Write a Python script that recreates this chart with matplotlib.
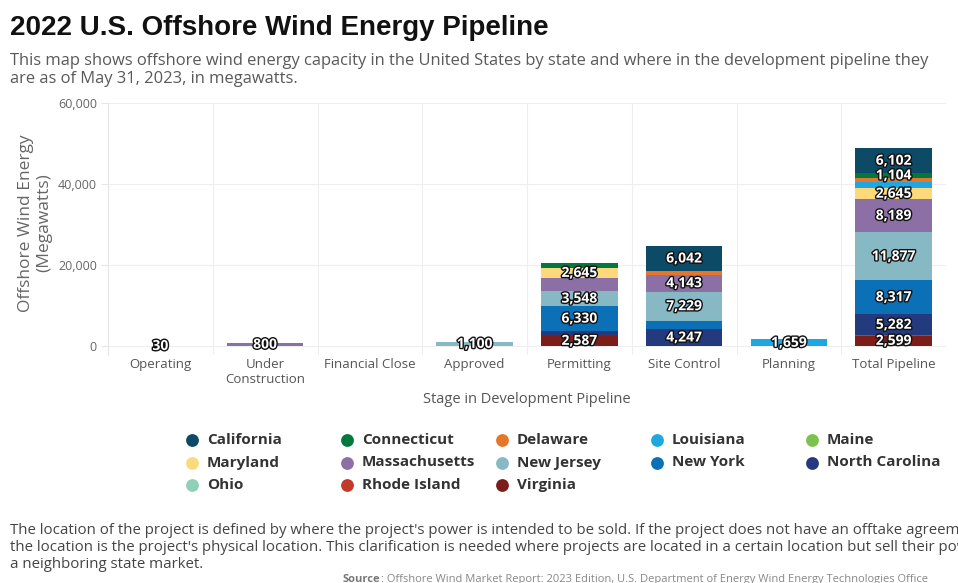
import numpy as np
import matplotlib
matplotlib.use('Agg')
import matplotlib.pyplot as plt
import matplotlib.patheffects as pe

# pipeline stages (x axis)
stages = ['Operating', 'Under\nConstruction', 'Financial Close', 'Approved',
          'Permitting', 'Site Control', 'Planning', 'Total Pipeline']

# capacity by state for each stage, MW
california     = [0, 0, 0, 0, 0, 6042, 0, 6102]
connecticut    = [0, 0, 0, 0, 1104, 0, 0, 1104]
delaware       = [0, 0, 0, 0, 0, 1000, 0, 1000]
louisiana      = [0, 0, 0, 0, 0, 0, 1659, 1659]
maine          = [0, 0, 0, 0, 0, 0, 0, 0]
maryland       = [0, 0, 0, 0, 2645, 0, 0, 2645]
massachusetts  = [0, 800, 0, 0, 3246, 4143, 0, 8189]
new_jersey     = [0, 0, 0, 1100, 3548, 7229, 0, 11877]
new_york       = [0, 0, 0, 0, 6330, 1987, 0, 8317]
north_carolina = [0, 0, 0, 0, 1035, 4247, 0, 5282]
ohio           = [0, 0, 0, 0, 0, 0, 0, 0]
rhode_island   = [30, 0, 0, 0, 0, 0, 0, 30]
virginia       = [12, 0, 0, 0, 2587, 0, 0, 2599]

state_names = ['California', 'Connecticut', 'Delaware', 'Louisiana', 'Maine',
               'Maryland', 'Massachusetts', 'New Jersey', 'New York', 'North Carolina',
               'Ohio', 'Rhode Island', 'Virginia']
state_values = [california, connecticut, delaware, louisiana, maine,
                maryland, massachusetts, new_jersey, new_york, north_carolina,
                ohio, rhode_island, virginia]
state_colors = ['#0c4a66', '#00783e', '#e5762a', '#1ea7e0', '#7cc24e',
                '#fdd97c', '#8c6fa5', '#86b9c4', '#0b70b5', '#243a7e',
                '#8ed1b7', '#c23a2a', '#7b1e1a']

W, H = 958, 583
fig = plt.figure(figsize=(W / 100, H / 100), dpi=100)
fig.patch.set_facecolor('white')

body_font = ['Open Sans', 'DejaVu Sans']
grey = '#666666'

ax = fig.add_axes([108 / W, 1 - 355 / H, (946 - 108) / W, (355 - 103) / H])
x = np.arange(len(stages))

# stack from the bottom in reverse alphabetical order
bottom = np.zeros(len(stages))
segments = [[] for _ in stages]
for name, vals, color in reversed(list(zip(state_names, state_values, state_colors))):
    vals = np.array(vals, dtype=float)
    ax.bar(x, vals, bottom=bottom, width=0.73, color=color, linewidth=0, zorder=2)
    for i, v in enumerate(vals):
        if v > 0:
            segments[i].append((v, bottom[i] + v / 2))
    bottom += vals

# value labels, biggest first, skipping those that would collide
min_gap = 3500
for i, segs in enumerate(segments):
    placed = []
    for v, c in sorted(segs, key=lambda s: -s[0]):
        if all(abs(c - p) >= min_gap for p in placed):
            placed.append(c)
            ax.text(x[i], c, f'{int(v):,}', ha='center', va='center',
                    fontsize=10, fontweight='bold', color='white', family=body_font,
                    zorder=5,
                    path_effects=[pe.withStroke(linewidth=2, foreground='#111111')])

ax.set_xlim(-0.5, len(stages) - 0.5)
ax.set_ylim(-2200, 60000)
ax.set_yticks([0, 20000, 40000, 60000])
ax.set_yticklabels([f'{t:,}' for t in [0, 20000, 40000, 60000]],
                   fontsize=9, color=grey, family=body_font)
ax.set_xticks(x)
ax.set_xticklabels(stages, fontsize=9.5, color='#555555', family=body_font, linespacing=1.25)
ax.tick_params(axis='x', length=0, pad=2)
ax.tick_params(axis='y', length=5, color='#e6e6e6', pad=3)
ax.grid(axis='y', color='#eeeeee', linewidth=0.8, zorder=0)
for b in np.arange(0.5, len(stages) - 1, 1):
    ax.axvline(b, color='#eeeeee', linewidth=0.8, zorder=0)
for side in ['top', 'right', 'bottom']:
    ax.spines[side].set_visible(False)
ax.spines['left'].set_color('#e6e6e6')

ax.set_xlabel('Stage in Development Pipeline', fontsize=10.5, color='#555555',
              family=body_font, labelpad=4)
ax.set_ylabel('Offshore Wind Energy\n(Megawatts)', fontsize=12.5, color=grey,
              family=body_font, linespacing=1.2)
ax.yaxis.set_label_coords(-0.066, 0.525)

# overlay in pixel coordinates for headers, legend and notes
ov = fig.add_axes([0, 0, 1, 1], zorder=-1)
ov.set_xlim(0, W)
ov.set_ylim(H, 0)
ov.axis('off')

ov.text(10, 28, '2022 U.S. Offshore Wind Energy Pipeline', fontsize=20, fontweight='bold',
        color='#111111', family=['Liberation Sans', 'DejaVu Sans'], va='center')
ov.text(10, 61, 'This map shows offshore wind energy capacity in the United States by state '
        'and where in the development pipeline they', fontsize=11.9, color='#595959',
        family=body_font, va='center')
ov.text(10, 79, 'are as of May 31, 2023, in megawatts.', fontsize=11.9, color='#595959',
        family=body_font, va='center')

# legend laid out row by row
for k, (name, color) in enumerate(zip(state_names, state_colors)):
    cx = 192 + 155 * (k % 5)
    cy = 440 + 22.5 * (k // 5)
    ov.scatter([cx], [cy], s=85, color=color, linewidths=0)
    ov.text(cx + 15, cy, name, fontsize=11, fontweight='bold', color='#333333',
            family=body_font, va='center')

notes = ["The location of the project is defined by where the project's power is intended to be sold. "
         "If the project does not have an offtake agreement,",
         "the location is the project's physical location. This clarification is needed where projects "
         "are located in a certain location but sell their power into",
         "a neighboring state market."]
for j, line in enumerate(notes):
    ov.text(10, 530 + 17.5 * j, line, fontsize=10.8, color='#444444', family=body_font, va='center')

src = ov.text(343, 574, 'Source', fontsize=8, fontweight='bold', color='#777777',
              family=body_font, va='top')
ov.annotate(': Offshore Wind Market Report: 2023 Edition, U.S. Department of Energy '
            'Wind Energy Technologies Office', xy=(1, 0), xycoords=src, va='bottom',
            fontsize=8, color='#888888', family=body_font)

fig.savefig('out.png', dpi=100)
